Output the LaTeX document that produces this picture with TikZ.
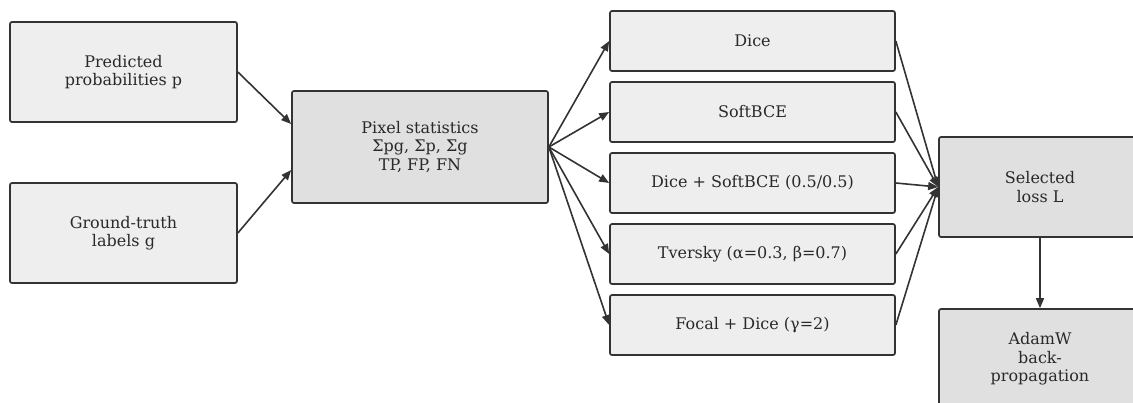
\documentclass[tikz,border=0pt]{standalone}
\usepackage{fontspec}
\setmainfont{DejaVu Serif}
\usetikzlibrary{arrows.meta}

\definecolor{boxline}{HTML}{333333}
\definecolor{inbox}{HTML}{EEEEEE}
\definecolor{midbox}{HTML}{E0E0E0}

\tikzset{
    stagebox/.style={draw=boxline, line width=1.7pt, rounded corners=2pt, align=center,
        font=\fontsize{16}{18.5}\selectfont, text=boxline!80!black, inner sep=0pt},
    inputbox/.style={stagebox, fill=inbox, minimum width=227pt, minimum height=100pt},
    lossbox/.style={stagebox, fill=inbox, minimum width=285pt, minimum height=60pt},
    statbox/.style={stagebox, fill=midbox},
    flow/.style={draw=boxline, line width=1.6pt, -{Triangle[length=10pt,width=8pt]}}
}

\begin{document}
\begin{tikzpicture}[x=1pt,y=-1pt]
    \useasboundingbox (0,0) rectangle (1133,402);

    \node[inputbox] (pred) at (123.5,72) {Predicted\\probabilities p};
    \node[inputbox] (truth) at (123.5,233) {Ground-truth\\labels g};
    \node[statbox, minimum width=256pt, minimum height=112pt] (pix) at (420,147)
        {Pixel statistics\\Σpg, Σp, Σg\\TP, FP, FN};

    \node[lossbox] (dice) at (752.5,41) {Dice};
    \node[lossbox] (bce) at (752.5,112) {SoftBCE};
    \node[lossbox] (mix) at (752.5,183) {Dice + SoftBCE (0.5/0.5)};
    \node[lossbox] (tversky) at (752.5,254) {Tversky (α=0.3, β=0.7)};
    \node[lossbox] (focal) at (752.5,325) {Focal + Dice (γ=2)};

    \node[statbox, minimum width=202pt, minimum height=100pt] (sel) at (1040,187) {Selected\\loss L};
    \node[statbox, minimum width=202pt, minimum height=100pt] (adam) at (1040,359)
        {AdamW\\back-\\propagation};

    \draw[flow] (pred.east) -- ([yshift=23pt]pix.west);
    \draw[flow] (truth.east) -- ([yshift=-23pt]pix.west);

    \foreach \n in {dice,bce,mix,tversky,focal} {
        \draw[flow] (pix.east) -- (\n.west);
        \draw[flow] (\n.east) -- (sel.west);
    }

    \draw[flow] (sel.south) -- (adam.north);
\end{tikzpicture}
\end{document}
